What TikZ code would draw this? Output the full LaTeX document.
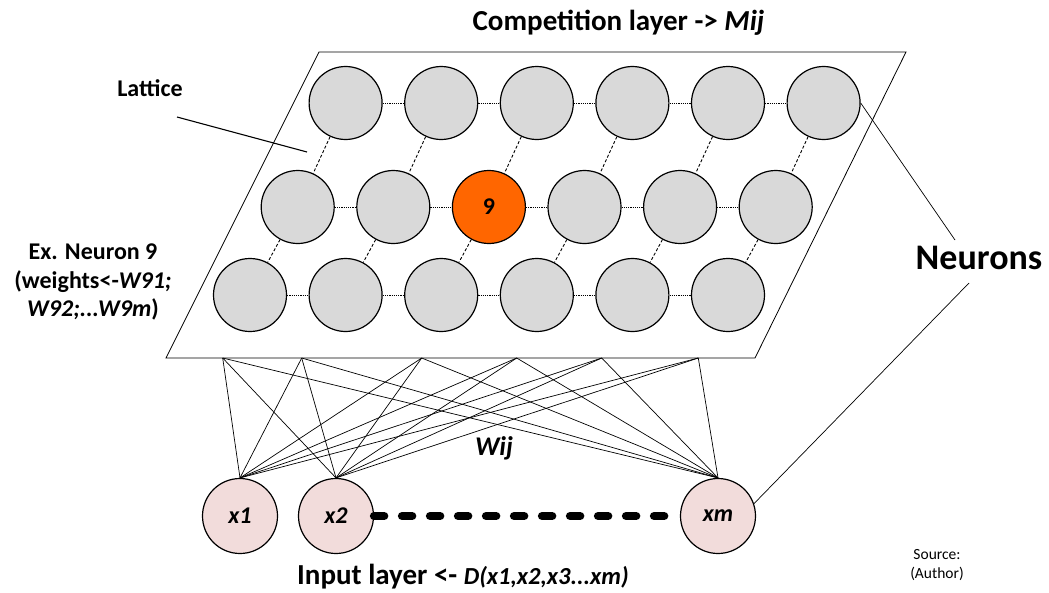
\documentclass[tikz,border=0pt]{standalone}
\usepackage{fontspec}
\setmainfont{Carlito}
\usetikzlibrary{calc}
\definecolor{neurgray}{HTML}{D9D9D9}
\definecolor{inpink}{HTML}{F2DCDB}
\definecolor{winnerorange}{HTML}{FF6600}
\begin{document}
\begin{tikzpicture}[x=1pt,y=-1pt,
  neuron/.style={circle,draw=black,line width=1.2pt,fill=neurgray,minimum size=73pt,inner sep=0pt},
  winner/.style={neuron,fill=winnerorange,font=\fontsize{24}{28}\selectfont\bfseries},
  inputnode/.style={circle,draw=black,line width=1.2pt,fill=inpink,minimum size=75pt,inner sep=0pt,font=\fontsize{24}{28}\selectfont\bfseries\itshape},
  hlink/.style={line width=1pt,dash pattern=on 1.2pt off 1pt},
  vlink/.style={line width=0.9pt,dash pattern=on 3pt off 2pt},
  wire/.style={line width=0.7pt},
  lbl/.style={font=\fontsize{24}{28.5}\selectfont\bfseries,align=center,inner sep=0pt}
]
\useasboundingbox (0,0) rectangle (1049,592);
% lattice plane
\draw[line width=0.8pt,fill=white] (166,358) coordinate (pbl) -- (755,358) coordinate (pbr)
  -- (906,52) coordinate (ptr) -- (319,52) coordinate (ptl) -- cycle;
% neurons
\foreach \k/\st/\lab in {1/neuron/,2/neuron/,3/winner/9,4/neuron/,5/neuron/,6/neuron/} {
  \node[neuron] (t\k) at ({345.6+95.6*(\k-1)},103) {};
  \node[\st] (m\k) at ({297.7+95.6*(\k-1)},207) {\lab};
  \node[neuron] (b\k) at ({250+95.6*(\k-1)},295) {};
}
\foreach \k [evaluate=\k as \j using int(\k+1)] in {1,...,5} {
  \draw[hlink] (t\k) -- (t\j);
  \draw[hlink] (m\k) -- (m\j);
  \draw[hlink] (b\k) -- (b\j);
}
\foreach \k in {1,...,6} {
  \draw[vlink] (t\k) -- (m\k);
  \draw[vlink] (m\k) -- (b\k);
}
% input layer
\node[inputnode] (x1) at (240,516) {x1};
\node[inputnode] (x2) at (336,516) {x2};
\node[inputnode] (xm) at (718,516) {xm};
% anchors on the plane edge
\foreach \i/\ax in {1/222.7,2/301.7,3/421.7,4/516.7,5/601.7,6/698.3} {
  \coordinate (a\i) at (\ax,358);
  \foreach \n in {x1,x2,xm} {
    \draw[wire] (a\i) -- (\n.north);
  }
}
\draw[line width=8.5pt,line cap=round,dash pattern=on 10pt off 18pt] (x2.east) -- (xm.west);
% labels
\node[font=\fontsize{29}{34}\selectfont\bfseries] (title) at (618.5,23) {Competition layer -> \textit{Mij}};
\node[lbl] (lattice) at (150,88) {Lattice};
\coordinate (latA) at (177,117);
\coordinate (latB) at (307,152);
\draw[line width=1.1pt] (latA) -- (latB);
\node[lbl] (ex) at (93,282) {Ex. Neuron 9\\(weights<-\textit{W91;}\\\textit{W92;...W9m})};
\node[font=\fontsize{36}{40}\selectfont\bfseries] (neurons) at (979,258) {Neurons};
\coordinate (n1) at (955,240);
\coordinate (n2) at (969,283);
\draw[wire] (t6.east) -- (n1);
\draw[wire] (xm.19) -- (n2);
\node[font=\fontsize{27}{32}\selectfont\bfseries\itshape] (wij) at (494,448) {Wij};
\node[font=\fontsize{29}{34}\selectfont\bfseries] (inlayer) at (463,577) {Input layer <- {\fontsize{24.5}{28}\selectfont\itshape D(x1,x2,x3...xm)}};
\node[font=\fontsize{15.5}{19.5}\selectfont,align=center] (src) at (937,565) {Source:\\(Author)};
\end{tikzpicture}
\end{document}
